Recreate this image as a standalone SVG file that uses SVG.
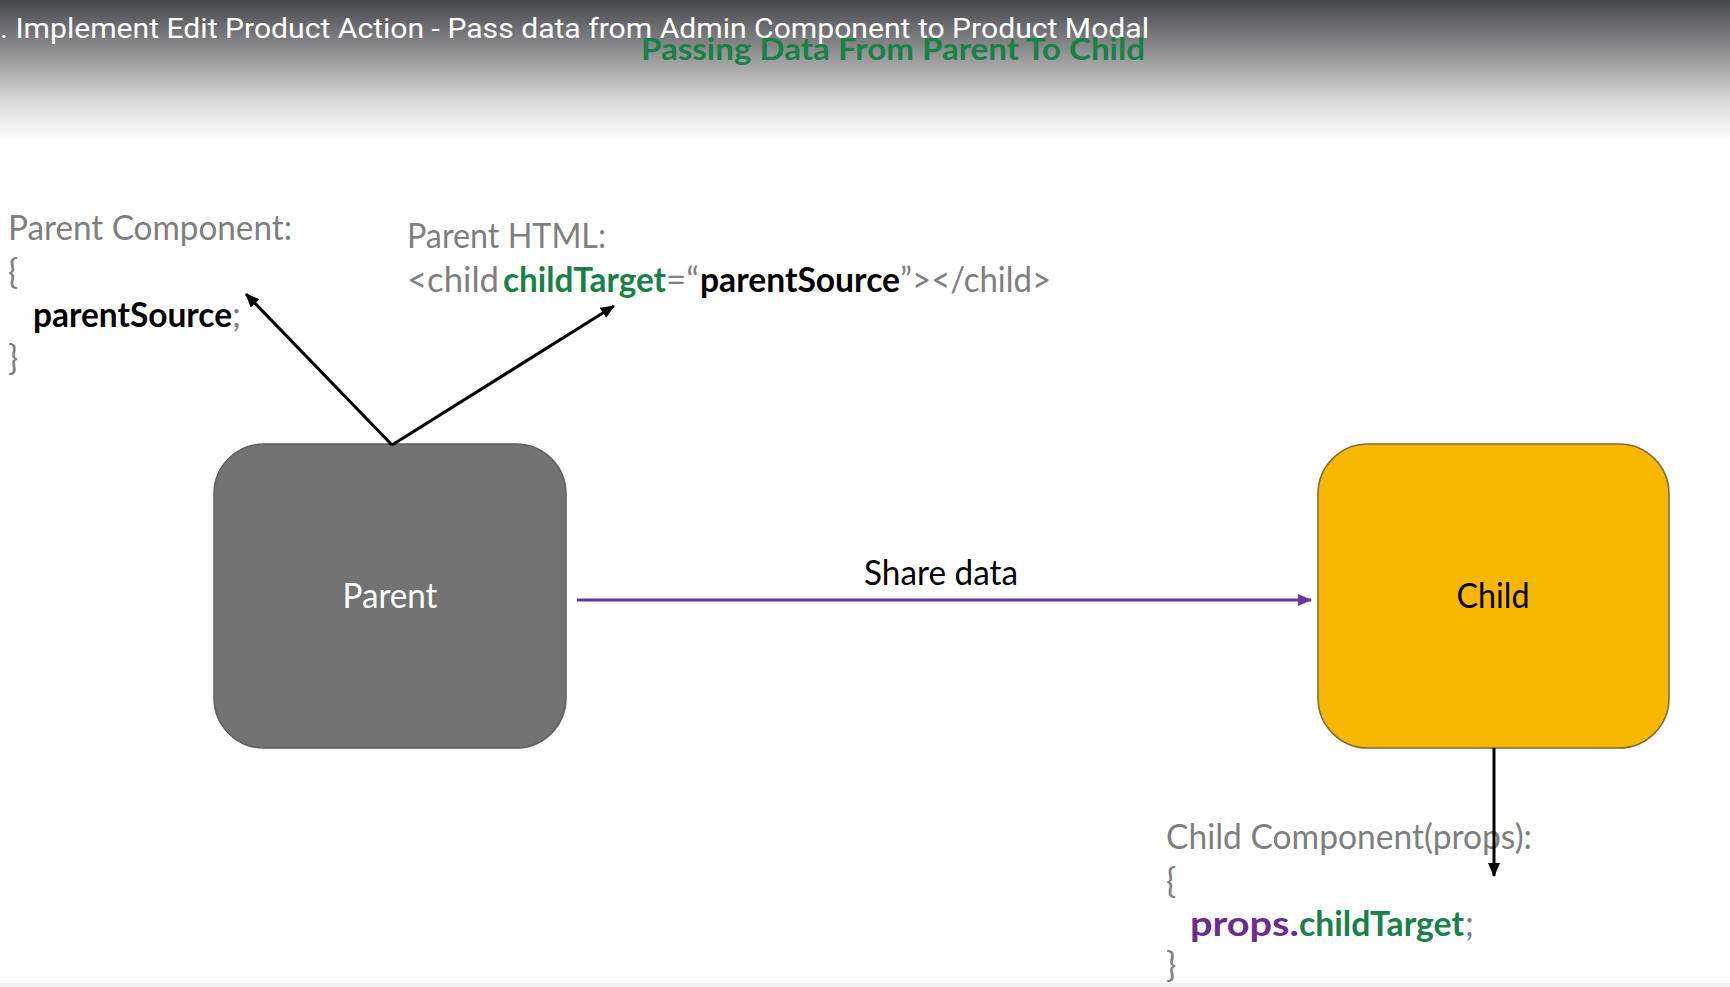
<svg xmlns="http://www.w3.org/2000/svg" width="1730" height="987" viewBox="0 0 1730 987">
<defs>
<linearGradient id="hdr" x1="0" y1="0" x2="0" y2="1">
<stop offset="0" stop-color="#46474b"/>
<stop offset="0.35" stop-color="#8c8c8e"/>
<stop offset="0.7" stop-color="#d6d6d6"/>
<stop offset="1" stop-color="#ffffff"/>
</linearGradient>
<marker id="ab" markerUnits="userSpaceOnUse" markerWidth="14" markerHeight="12" refX="13" refY="6" orient="auto">
<path d="M0,0 L14,6 L0,12 z" fill="#000"/>
</marker>
<marker id="ap" markerUnits="userSpaceOnUse" markerWidth="14" markerHeight="12" refX="13" refY="6" orient="auto">
<path d="M0,0 L14,6 L0,12 z" fill="#6b3594"/>
</marker>
</defs>
<style>
.t{font-family:Lato,"Open Sans",sans-serif;font-size:34px;fill:#7f7f7f}
.b{font-weight:bold;fill:#000}
.g{font-weight:bold;fill:#198049}
.p{font-weight:bold;fill:#6a2c91}
.lbl{font-family:Lato,"Open Sans",sans-serif;font-size:34px;text-anchor:middle}
.conn{stroke:#000;stroke-width:3;fill:none}
</style>
<rect x="0" y="0" width="1730" height="987" fill="#ffffff"/>
<rect x="0" y="0" width="1730" height="140" fill="url(#hdr)"/>
<rect x="0" y="983" width="1730" height="4" fill="#f0f0f0"/>
<text x="0" y="38" font-family="Roboto,'Liberation Sans',sans-serif" font-size="28" fill="#ffffff" textLength="1149" lengthAdjust="spacingAndGlyphs">. Implement Edit Product Action - Pass data from Admin Component to Product Modal</text>
<text x="641" y="60" font-family="Lato,'Open Sans',sans-serif" font-size="31" font-weight="bold" fill="#178247" textLength="504" lengthAdjust="spacingAndGlyphs">Passing Data From Parent To Child</text>

<g id="parent-component-code">
<text class="t" x="8" y="240" textLength="284" lengthAdjust="spacingAndGlyphs">Parent Component:</text>
<text class="t" x="8" y="284">{</text>
<text class="t" x="33" y="327"><tspan class="b" textLength="199" lengthAdjust="spacingAndGlyphs">parentSource</tspan><tspan>;</tspan></text>
<text class="t" x="8" y="370">}</text>
</g>

<g id="parent-html-code">
<text class="t" x="407" y="248" textLength="199" lengthAdjust="spacingAndGlyphs">Parent HTML:</text>
<text class="t" y="292"><tspan x="407" textLength="92" lengthAdjust="spacingAndGlyphs">&lt;child</tspan><tspan class="g" x="503" textLength="163" lengthAdjust="spacingAndGlyphs">childTarget</tspan><tspan x="666" textLength="33" lengthAdjust="spacingAndGlyphs">=“</tspan><tspan class="b" x="700" textLength="200" lengthAdjust="spacingAndGlyphs">parentSource</tspan><tspan x="900" textLength="151" lengthAdjust="spacingAndGlyphs">”&gt;&lt;/child&gt;</tspan></text>
</g>

<g id="child-component-code">
<text class="t" x="1166" y="849" textLength="366" lengthAdjust="spacingAndGlyphs">Child Component(props):</text>
<text class="t" x="1166" y="893">{</text>
<text class="t" y="936"><tspan class="p" x="1190" textLength="109" lengthAdjust="spacingAndGlyphs">props.</tspan><tspan class="g" x="1299" textLength="165" lengthAdjust="spacingAndGlyphs">childTarget</tspan><tspan x="1465">;</tspan></text>
<text class="t" x="1166" y="977">}</text>
</g>

<g id="parent">
<rect x="214" y="444" width="352" height="304" rx="50" ry="50" fill="#737373" stroke="#5f5f5f" stroke-width="1.5"/>
<text class="lbl" x="390" y="608" fill="#ffffff" textLength="95" lengthAdjust="spacingAndGlyphs">Parent</text>
</g>

<g id="child">
<rect x="1318" y="444" width="351" height="304" rx="50" ry="50" fill="#f8b802" stroke="#7d6a3a" stroke-width="1.5"/>
<text class="lbl" x="1493" y="608" fill="#000000" textLength="73" lengthAdjust="spacingAndGlyphs">Child</text>
</g>

<g id="connectors">
<line class="conn" x1="392" y1="445" x2="246" y2="294" marker-end="url(#ab)"/>
<line class="conn" x1="392" y1="445" x2="614" y2="306" marker-end="url(#ab)"/>
<line x1="577" y1="600" x2="1311" y2="600" stroke="#6b3594" stroke-width="3" marker-end="url(#ap)"/>
<text class="lbl" x="941" y="585" fill="#000000" textLength="154" lengthAdjust="spacingAndGlyphs">Share data</text>
<line class="conn" x1="1494" y1="748" x2="1494" y2="876" marker-end="url(#ab)"/>
</g>
</svg>
